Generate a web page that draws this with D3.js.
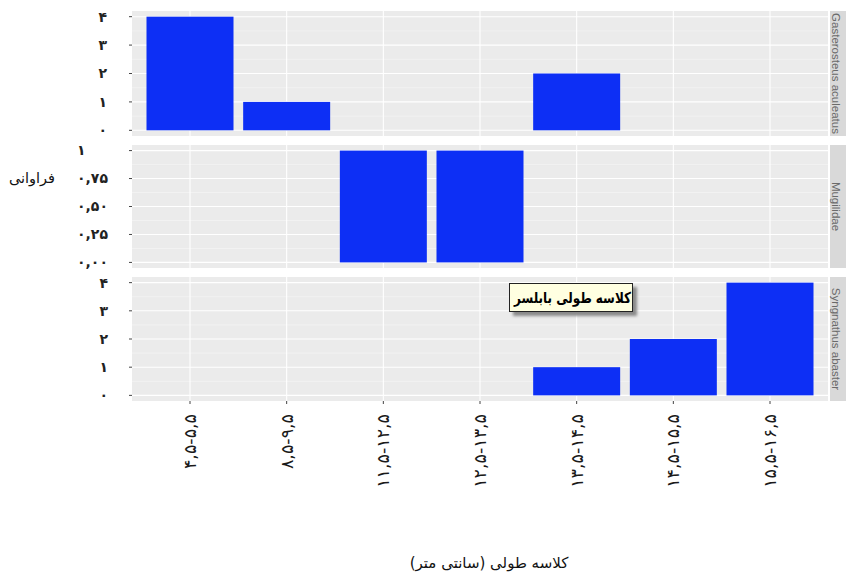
<!DOCTYPE html>
<html>
<head>
<meta charset="utf-8">
<script src="https://cdn.jsdelivr.net/npm/d3@7"></script>
<style>
  html, body { margin: 0; padding: 0; background: #fff; }
  svg { display: block; }
</style>
</head>
<body>
<svg id="chart" width="846" height="576"></svg>
<script>
// ---- data ----
const categories = ["۴,۵-۵,۵", "۸,۵-۹,۵", "۱۱,۵-۱۲,۵", "۱۲,۵-۱۳,۵", "۱۳,۵-۱۴,۵", "۱۴,۵-۱۵,۵", "۱۵,۵-۱۶,۵"];
const speciesNames = ["Gasterosteus aculeatus", "Mugilidae", "Syngnathus abaster"];
const gasterosteusValues = [4, 1, 0, 0, 2, 0, 0];
const mugilidaeValues = [0, 0, 1, 1, 0, 0, 0];
const syngnathusValues = [0, 0, 0, 0, 1, 2, 4];
const countTicks = [0, 1, 2, 3, 4];
const countTickLabels = ["۰", "۱", "۲", "۳", "۴"];
const fracTicks = [0, 0.25, 0.5, 0.75, 1];
const fracTickLabels = ["۰,۰۰", "۰,۲۵", "۰,۵۰", "۰,۷۵", "۱"];
const xTitle = "کلاسه طولی (سانتی متر)";
const yTitle = "فراوانی";
const noteText = "کلاسه طولی بابلسر";

const svg = d3.select("#chart");
const fa = "'DejaVu Sans', sans-serif";

const defs = svg.append("defs");
const blur = defs.append("filter").attr("id", "shadowBlur")
  .attr("x", "-10%").attr("y", "-10%").attr("width", "130%").attr("height", "140%");
blur.append("feGaussianBlur").attr("stdDeviation", 1.5);

const panelLeft = 132, panelRight = 828;
const x = d3.scaleBand().domain(categories).range([panelLeft, panelRight])
  .paddingInner(0.1).paddingOuter(0.15);

const panels = [
  { name: speciesNames[0], values: gasterosteusValues, top: 11, bottom: 136, max: 4,
    ticks: countTicks, labels: countTickLabels, labelX: 107, anchor: "end" },
  { name: speciesNames[1], values: mugilidaeValues, top: 145, bottom: 268, max: 1,
    ticks: fracTicks, labels: fracTickLabels, labelX: 77, anchor: "start" },
  { name: speciesNames[2], values: syngnathusValues, top: 277, bottom: 401, max: 4,
    ticks: countTicks, labels: countTickLabels, labelX: 108, anchor: "end" }
];

panels.forEach((p, pi) => {
  const pad = p.max * 0.05;
  const y = d3.scaleLinear().domain([-pad, p.max + pad]).range([p.bottom, p.top]);
  const g = svg.append("g");
  g.append("rect").attr("x", panelLeft).attr("y", p.top)
    .attr("width", panelRight - panelLeft).attr("height", p.bottom - p.top)
    .attr("fill", "#ebebeb");
  const step = p.ticks[1] - p.ticks[0];
  const minor = p.ticks.slice(0, -1).map(t => t + step / 2);
  g.selectAll(".hmin").data(minor).enter().append("line")
    .attr("x1", panelLeft).attr("x2", panelRight)
    .attr("y1", d => y(d)).attr("y2", d => y(d))
    .attr("stroke", "#f7f7f7").attr("stroke-width", 0.6);
  g.selectAll(".hmaj").data(p.ticks).enter().append("line")
    .attr("x1", panelLeft).attr("x2", panelRight)
    .attr("y1", d => y(d)).attr("y2", d => y(d))
    .attr("stroke", "#ffffff").attr("stroke-width", 1.1);
  g.selectAll(".vmaj").data(categories).enter().append("line")
    .attr("x1", d => x(d) + x.bandwidth() / 2).attr("x2", d => x(d) + x.bandwidth() / 2)
    .attr("y1", p.top).attr("y2", p.bottom)
    .attr("stroke", "#ffffff").attr("stroke-width", 1.1);
  g.selectAll(".bar").data(categories.map((c, i) => ({ c, v: p.values[i] })).filter(d => d.v > 0))
    .enter().append("rect")
    .attr("x", d => x(d.c)).attr("width", x.bandwidth())
    .attr("y", d => y(d.v)).attr("height", d => y(0) - y(d.v))
    .attr("fill", "#0d2ff5");
  g.selectAll(".yt").data(p.ticks).enter().append("line")
    .attr("x1", panelLeft - 3).attr("x2", panelLeft)
    .attr("y1", d => y(d)).attr("y2", d => y(d))
    .attr("stroke", "#444").attr("stroke-width", 1);
  g.selectAll(".yl").data(p.ticks).enter().append("text")
    .attr("x", p.labelX).attr("y", d => y(d))
    .attr("dy", "0.35em")
    .attr("text-anchor", p.anchor)
    .attr("font-family", fa).attr("font-size", 14).attr("font-weight", "bold")
    .attr("fill", "#222")
    .text((d, i) => p.labels[i]);
  g.append("rect").attr("x", 830).attr("y", p.top)
    .attr("width", 20).attr("height", p.bottom - p.top)
    .attr("fill", "#d9d9d9");
  g.append("text")
    .attr("transform", `translate(836,${(p.top + p.bottom) / 2}) rotate(90)`)
    .attr("text-anchor", "middle").attr("dy", "0.35em")
    .attr("font-family", "'Liberation Sans', Arial, sans-serif").attr("font-size", 11.5)
    .attr("fill", "#6a6a6a")
    .text(p.name);
  if (pi === panels.length - 1) {
    g.selectAll(".xt").data(categories).enter().append("line")
      .attr("x1", d => x(d) + x.bandwidth() / 2).attr("x2", d => x(d) + x.bandwidth() / 2)
      .attr("y1", p.bottom).attr("y2", p.bottom + 3)
      .attr("stroke", "#444").attr("stroke-width", 1);
    g.selectAll(".xl").data(categories).enter().append("text")
      .attr("transform", d => `translate(${x(d) + x.bandwidth() / 2},${p.bottom + 13}) rotate(-90)`)
      .attr("text-anchor", "end").attr("dy", "0.35em")
      .attr("font-family", fa).attr("font-size", 17.5)
      .attr("fill", "#1a1a1a")
      .text(d => d);
  }
});

svg.append("text").attr("x", 489).attr("y", 568)
  .attr("text-anchor", "middle").attr("font-family", fa).attr("font-size", 15)
  .attr("fill", "#111").text(xTitle);
svg.append("text").attr("x", 32).attr("y", 183)
  .attr("text-anchor", "middle").attr("font-family", fa).attr("font-size", 14.5)
  .attr("fill", "#111").text(yTitle);

// note box
const note = svg.append("g");
note.append("rect").attr("x", 513).attr("y", 287).attr("width", 124).attr("height", 29)
  .attr("fill", "#8a8a8a").attr("filter", "url(#shadowBlur)");
note.append("rect").attr("x", 509.5).attr("y", 283.5).attr("width", 123).attr("height", 28)
  .attr("fill", "#ffffe1").attr("stroke", "#222").attr("stroke-width", 1);
note.append("text").attr("x", 572.5).attr("y", 298).attr("dy", "0.35em")
  .attr("text-anchor", "middle").attr("font-family", fa).attr("font-size", 15)
  .attr("font-weight", "bold").attr("fill", "#000")
  .attr("textLength", 117).attr("lengthAdjust", "spacingAndGlyphs")
  .text(noteText);
</script>
</body>
</html>
